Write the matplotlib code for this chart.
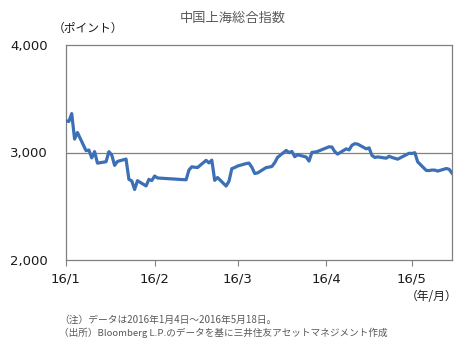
import matplotlib
matplotlib.use('Agg')
import matplotlib.pyplot as plt
import pandas as pd

plt.rcParams['font.family'] = ['Noto Sans CJK JP', 'DejaVu Sans']

dates = [
    '2016-01-04', '2016-01-05', '2016-01-06', '2016-01-07', '2016-01-08',
    '2016-01-11', '2016-01-12', '2016-01-13', '2016-01-14', '2016-01-15',
    '2016-01-18', '2016-01-19', '2016-01-20', '2016-01-21', '2016-01-22',
    '2016-01-25', '2016-01-26', '2016-01-27', '2016-01-28', '2016-01-29',
    '2016-02-01', '2016-02-02', '2016-02-03', '2016-02-04', '2016-02-05',
    '2016-02-15', '2016-02-16', '2016-02-17', '2016-02-18', '2016-02-19',
    '2016-02-22', '2016-02-23', '2016-02-24', '2016-02-25', '2016-02-26',
    '2016-02-29', '2016-03-01', '2016-03-02', '2016-03-03', '2016-03-04',
    '2016-03-07', '2016-03-08', '2016-03-09', '2016-03-10', '2016-03-11',
    '2016-03-14', '2016-03-15', '2016-03-16', '2016-03-17', '2016-03-18',
    '2016-03-21', '2016-03-22', '2016-03-23', '2016-03-24', '2016-03-25',
    '2016-03-28', '2016-03-29', '2016-03-30', '2016-03-31', '2016-04-01',
    '2016-04-05', '2016-04-06', '2016-04-07', '2016-04-08', '2016-04-11',
    '2016-04-12', '2016-04-13', '2016-04-14', '2016-04-15', '2016-04-18',
    '2016-04-19', '2016-04-20', '2016-04-21', '2016-04-22', '2016-04-25',
    '2016-04-26', '2016-04-27', '2016-04-28', '2016-04-29', '2016-05-03',
    '2016-05-04', '2016-05-05', '2016-05-06', '2016-05-09', '2016-05-10',
    '2016-05-11', '2016-05-12', '2016-05-13', '2016-05-16', '2016-05-17',
    '2016-05-18',
]
values = [
    3296, 3288, 3362, 3125, 3186,
    3017, 3023, 2950, 3008, 2901,
    2914, 3008, 2977, 2880, 2917,
    2939, 2750, 2736, 2656, 2738,
    2689, 2750, 2739, 2781, 2763,
    2746, 2837, 2867, 2863, 2860,
    2927, 2903, 2929, 2741, 2767,
    2688, 2733, 2850, 2860, 2874,
    2897, 2901, 2863, 2805, 2810,
    2860, 2864, 2870, 2905, 2955,
    3019, 2999, 3010, 2961, 2979,
    2958, 2920, 3001, 3004, 3010,
    3053, 3051, 3008, 2985, 3034,
    3024, 3067, 3082, 3078, 3034,
    3043, 2973, 2954, 2959, 2947,
    2965, 2954, 2946, 2938, 2993,
    2991, 2998, 2913, 2833, 2832,
    2837, 2836, 2827, 2851, 2844,
    2808,
]
tick_dates = ['2016-01-04', '2016-02-04', '2016-03-04', '2016-04-04', '2016-05-04']
tick_labels = ['16/1', '16/2', '16/3', '16/4', '16/5']
y_ticks = [2000, 3000, 4000]
y_labels = ['2,000', '3,000', '4,000']

x = pd.to_datetime(dates)

fig = plt.figure(figsize=(4.67, 3.49), dpi=100)
ax = fig.add_axes([66 / 467, 89 / 349, 386 / 467, 215 / 349])

# reference line at 3,000
ax.axhline(3000, color='#8a7d74', lw=0.9, zorder=1)
ax.plot(x, values, color='#3d6fb6', lw=2.3, zorder=3, solid_joinstyle='round')

ax.set_xlim(x[0], x[-1])
ax.set_ylim(2000, 4000)
ax.set_xticks(pd.to_datetime(tick_dates))
ax.set_xticklabels(tick_labels, family='DejaVu Sans', fontsize=9.5, color='#1a1a1a')
ax.set_yticks(y_ticks)
ax.set_yticklabels(y_labels, family='DejaVu Sans', fontsize=9.5, color='#1a1a1a')
ax.tick_params(axis='x', direction='out', length=4, width=0.8, color='#808080', pad=5)
ax.tick_params(axis='y', length=0, pad=13)

for s in ax.spines.values():
    s.set_color('#808080')
    s.set_linewidth(0.9)

fig.text(233 / 467, 1 - 18 / 349, '中国上海総合指数', ha='center', va='center',
         fontsize=9.5, color='#595959')
fig.text(53 / 467, 1 - 28 / 349, '（ポイント）', ha='left', va='center',
         fontsize=8.5, color='#1a1a1a')
fig.text(457 / 467, 1 - 297 / 349, '（年/月）', ha='right', va='center',
         fontsize=8.5, color='#1a1a1a')
fig.text(59 / 467, 1 - 320 / 349, '（注）データは2016年1月4日～2016年5月18日。',
         ha='left', va='center', fontsize=7, color='#595959')
fig.text(59 / 467, 1 - 333 / 349,
         '（出所）Bloomberg L.P.のデータを基に三井住友アセットマネジメント作成',
         ha='left', va='center', fontsize=6.9, color='#595959')

fig.savefig('out.png', dpi=100)
